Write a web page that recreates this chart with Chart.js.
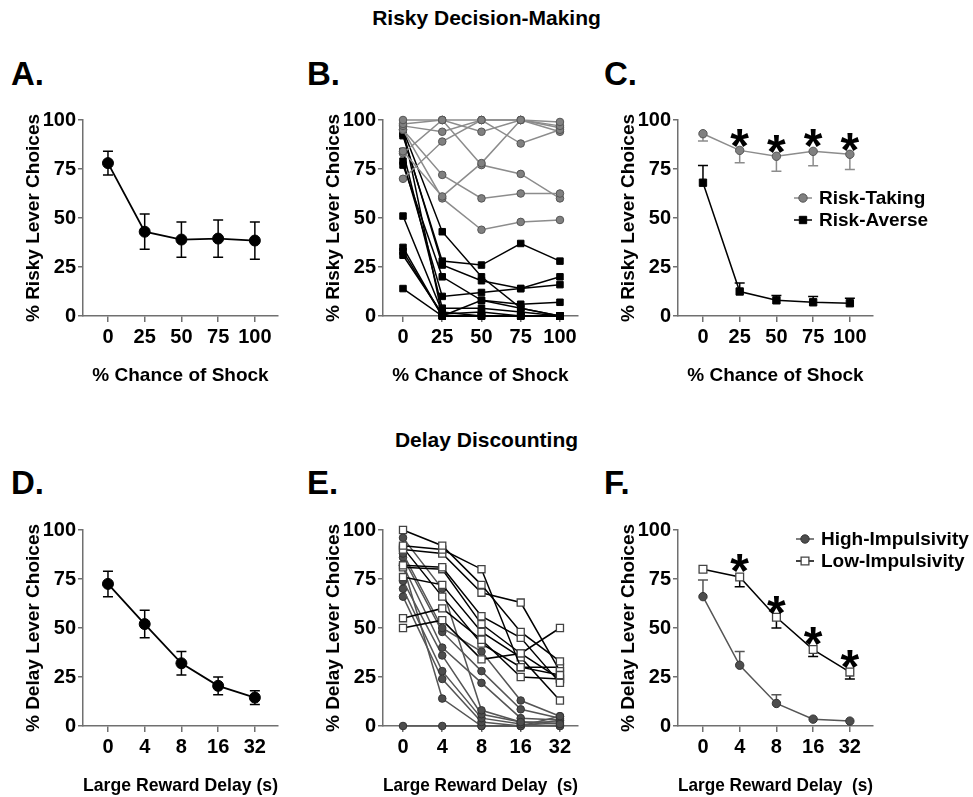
<!DOCTYPE html>
<html>
<head>
<meta charset="utf-8">
<script src="https://cdn.jsdelivr.net/npm/chart.js@4.4.1/dist/chart.umd.min.js"></script>
<style>
  body { margin: 0; width: 973px; height: 797px; background: #fff; position: relative; overflow: hidden;
         font-family: "Liberation Sans", Arial, sans-serif; }
  .t { position: absolute; font-weight: bold; color: #000; white-space: pre; }
  .head { left: 0; width: 973px; text-align: center; font-size: 21px; line-height: 24px; }
  .lab { font-size: 33px; line-height: 36px; }
  canvas { position: absolute; }
</style>
</head>
<body>
<div class="t head" style="top:6px">Risky Decision-Making</div>
<div class="t head" style="top:428px">Delay Discounting</div>
<div class="t lab" style="left:11px;top:56px">A.</div>
<div class="t lab" style="left:307px;top:56px">B.</div>
<div class="t lab" style="left:604px;top:56px">C.</div>
<div class="t lab" style="left:11px;top:465px">D.</div>
<div class="t lab" style="left:307px;top:465px">E.</div>
<div class="t lab" style="left:604px;top:465px">F.</div>

<canvas id="cA" width="300" height="300" style="left:0;top:100px"></canvas>
<canvas id="cB" width="300" height="300" style="left:300px;top:100px"></canvas>
<canvas id="cC" width="378" height="300" style="left:595px;top:100px"></canvas>
<canvas id="cD" width="300" height="287" style="left:0;top:510px"></canvas>
<canvas id="cE" width="300" height="287" style="left:300px;top:510px"></canvas>
<canvas id="cF" width="378" height="287" style="left:595px;top:510px"></canvas>

<script>
// ---- data ----
const shockLabels = ["0", "25", "50", "75", "100"];
const delayLabels = ["0", "4", "8", "16", "32"];
const yTicks = [0, 25, 50, 75, 100];

// A: all rats, risky decision-making
const riskyMean = [78, 43, 39, 39.5, 38.5];
const riskySem = [6, 9, 9, 9.5, 9.5];

// B: individual rats
const riskTakingRats = [
  [100, 100, 100, 100, 99],
  [98, 100, 94, 100, 97],
  [97, 94, 100, 88, 95],
  [70, 89, 100, 100, 94],
  [95, 72, 60, 62.5, 62.5],
  [84, 61, 78, 100, 96],
  [95, 60, 44, 48, 49],
  [83, 100, 77, 72.5, 60]
];
const riskAverseRats = [
  [95, 43, 20, 4, 0],
  [92, 28, 26, 37, 28],
  [93, 26, 18, 14, 20],
  [77, 20, 8, 6, 7],
  [79, 10, 12, 14, 16],
  [84, 4, 4, 2, 0],
  [51, 2, 0, 0, 0],
  [35, 0, 8, 4, 0],
  [33, 0, 0, 0, 0],
  [31, 1, 2, 0, 0],
  [14, 0, 0, 0, 0],
  [96, 0, 0, 0, 0]
];

// C: group means
const riskTakingMean = [93, 84.5, 81.5, 84, 82.5];
const riskTakingSem = [3.7, 6.3, 7.6, 7.3, 7.8];
const riskAverseMean = [68, 12.5, 8, 7, 6.5];
const riskAverseSem = [8.8, 4.3, 2.4, 2.9, 2.5];
const starsC = [null, 93, 90, 93, 91];

// D: all rats, delay discounting
const delayMean = [72.5, 52, 32, 20.5, 14.5];
const delaySem = [6.5, 7, 6, 4.5, 3.5];

// E: individual rats
const lowImpRats = [
  [100, 92, 72, 48, 33],
  [92, 90, 80, 30, 26],
  [90, 88, 68, 63, 28],
  [82, 81, 56, 45, 22],
  [81, 80, 52, 37, 24],
  [76, 72, 48, 35, 13],
  [55, 60, 44, 25, 24],
  [50, 54, 34, 37, 50],
  [91, 66, 42, 30, 30]
];
const highImpRats = [
  [96, 70, 8, 2, 1],
  [88, 50, 38, 13, 5],
  [86, 48, 28, 8.5, 4],
  [82, 40, 22, 4, 3],
  [74, 36, 6, 2, 2],
  [70, 28, 4, 1, 0],
  [66, 24, 2, 0, 3],
  [82, 14, 0, 0, 5],
  [0, 0, 0, 0, 0]
];

// F: group means
const highImpMean = [66, 31, 11.5, 3.5, 2.5];
const highImpSem = [8.5, 7, 4.5, 0, 0];
const lowImpMean = [80, 76, 55.5, 39, 27.5];
const lowImpSem = [0, 5, 5.5, 3.6, 3.5];
const starsF = [null, 85, 64, 48, 36];

// ---- style ----
const FONT = "'Liberation Sans', Arial, sans-serif";
const axisGrey = "#707070";
const midGrey = "#808080";
const darkGrey = "#4d4d4d";
Chart.defaults.font.family = FONT;
Chart.defaults.font.weight = "bold";

// error bars drawn under the markers, using the chart's y scale
const errorBars = {
  id: "errorBars",
  beforeDatasetsDraw(chart) {
    const ctx = chart.ctx;
    const ys = chart.scales.y;
    chart.data.datasets.forEach((ds, i) => {
      if (!ds.err) return;
      const meta = chart.getDatasetMeta(i);
      ctx.save();
      ctx.strokeStyle = ds.errColor || ds.borderColor;
      ctx.lineWidth = 1.5;
      meta.data.forEach((pt, j) => {
        const e = ds.err[j];
        if (!e) return;
        const v = ds.data[j].y;
        const top = ds.errDir === "down" ? pt.y : ys.getPixelForValue(v + e);
        const bot = ds.errDir === "up" ? pt.y : ys.getPixelForValue(v - e);
        ctx.beginPath();
        ctx.moveTo(pt.x, top);
        ctx.lineTo(pt.x, bot);
        if (ds.errDir !== "down") { ctx.moveTo(pt.x - 5, top); ctx.lineTo(pt.x + 5, top); }
        if (ds.errDir !== "up") { ctx.moveTo(pt.x - 5, bot); ctx.lineTo(pt.x + 5, bot); }
        ctx.stroke();
      });
      ctx.restore();
    });
  }
};

function starsPlugin(stars) {
  return {
    id: "stars",
    afterDatasetsDraw(chart) {
      const ctx = chart.ctx;
      ctx.save();
      ctx.fillStyle = "#000";
      ctx.font = "bold 48px " + FONT;
      ctx.textAlign = "center";
      ctx.textBaseline = "alphabetic";
      stars.forEach((v, i) => {
        if (v == null) return;
        const x = chart.scales.x.getPixelForValue(i);
        const y = chart.scales.y.getPixelForValue(v);
        ctx.fillText("*", x, y + 28);
      });
      ctx.restore();
    }
  };
}

// small legend drawn inside the plot, like the original figure
function legendPlugin(items) {
  return {
    id: "inLegend",
    afterDraw(chart) {
      const ctx = chart.ctx;
      items.forEach(it => {
        const ds = chart.data.datasets[it.ds];
        ctx.save();
        ctx.strokeStyle = ds.borderColor;
        ctx.lineWidth = 1.5;
        ctx.beginPath();
        ctx.moveTo(it.x - 9, it.y);
        ctx.lineTo(it.x + 9, it.y);
        ctx.stroke();
        ctx.fillStyle = ds.pointBackgroundColor;
        ctx.strokeStyle = ds.pointBorderColor;
        ctx.lineWidth = ds.pointBorderWidth;
        Chart.helpers.drawPoint(ctx, { pointStyle: ds.pointStyle, radius: ds.pointRadius, borderWidth: ds.pointBorderWidth, rotation: 0 }, it.x, it.y);
        ctx.fillStyle = "#000";
        ctx.font = "bold 19px " + FONT;
        ctx.textAlign = "left";
        ctx.textBaseline = "middle";
        ctx.fillText(it.label, it.x + 16, it.y + 1);
        ctx.restore();
      });
    }
  };
}

function series(vals, style) {
  return Object.assign({
    data: vals.map((v, i) => ({ x: i, y: v })),
    clip: false,
    tension: 0,
    fill: false,
    pointHoverRadius: 0
  }, style);
}

const blackCircle = { borderColor: "#000", borderWidth: 1.8, pointStyle: "circle", pointRadius: 5.5,
  pointBackgroundColor: "#000", pointBorderColor: "#000", pointBorderWidth: 1 };
const greyCircle = { borderColor: "#8c8c8c", borderWidth: 1.5, pointStyle: "circle", pointRadius: 3.8,
  pointBackgroundColor: midGrey, pointBorderColor: "#555", pointBorderWidth: 1 };
const blackSquare = { borderColor: "#000", borderWidth: 1.5, pointStyle: "rect", pointRadius: 5,
  pointBackgroundColor: "#000", pointBorderColor: "#000", pointBorderWidth: 1 };
const darkCircle = { borderColor: "#555", borderWidth: 1.5, pointStyle: "circle", pointRadius: 3.8,
  pointBackgroundColor: darkGrey, pointBorderColor: "#333", pointBorderWidth: 1 };
const whiteSquare = { borderColor: "#000", borderWidth: 1.5, pointStyle: "rect", pointRadius: 5.5,
  pointBackgroundColor: "#fff", pointBorderColor: "#444", pointBorderWidth: 1.3 };

function makePanel(id, p) {
  const tickFont = { family: FONT, size: 20, weight: "bold" };
  const titleFont = { family: FONT, size: 19, weight: "bold" };
  return new Chart(document.getElementById(id), {
    type: "line",
    data: { datasets: p.datasets },
    plugins: [errorBars].concat(p.plugins || []),
    options: {
      responsive: false,
      animation: false,
      events: [],
      layout: { padding: { top: 20, right: p.padRight, left: 0, bottom: 0 } },
      plugins: { legend: { display: false }, tooltip: { enabled: false } },
      scales: {
        x: {
          type: "linear",
          min: p.xMin,
          max: p.xMax,
          afterBuildTicks: s => { s.ticks = p.xLabels.map((_, i) => ({ value: i })); },
          afterFit: s => { s.height = p.xAxisH; },
          ticks: { callback: v => p.xLabels[v], color: "#000", font: tickFont, padding: 3, maxRotation: 0, autoSkip: false },
          grid: { drawOnChartArea: false, drawTicks: true, tickLength: 6, color: axisGrey, lineWidth: 1.5 },
          border: { display: true, color: axisGrey, width: 1.5 },
          title: { display: true, text: p.xTitle, color: "#000", font: titleFont, padding: { top: 0, bottom: p.xTitlePad } }
        },
        y: {
          min: 0,
          max: 100,
          afterBuildTicks: s => { s.ticks = yTicks.map(v => ({ value: v })); },
          afterFit: s => { s.width = 83; },
          ticks: { color: "#000", font: tickFont, padding: 2 },
          grid: { drawOnChartArea: false, drawTicks: true, tickLength: 5, color: axisGrey, lineWidth: 1.5 },
          border: { display: true, color: axisGrey, width: 1.5 },
          title: { display: true, text: p.yTitle, color: "#000", font: titleFont, padding: { top: 22, bottom: 0 } }
        }
      }
    }
  });
}

const wideX = { xMin: -0.68, xMax: 4.63 };
const narrowX = { xMin: -0.51, xMax: 4.46 };
const topRow = { xAxisH: 84, xTitlePad: 13 };
const botRow = { xAxisH: 71, xTitlePad: 0 };

// A
makePanel("cA", Object.assign({}, wideX, topRow, {
  padRight: 22, xLabels: shockLabels, xTitle: "% Chance of Shock", yTitle: "% Risky Lever Choices",
  datasets: [series(riskyMean, Object.assign({ err: riskySem, errDir: "both" }, blackCircle))]
}));

// B
makePanel("cB", Object.assign({}, narrowX, topRow, {
  padRight: 22, xLabels: shockLabels, xTitle: "% Chance of Shock", yTitle: "% Risky Lever Choices",
  datasets: riskTakingRats.map(r => series(r, greyCircle))
    .concat(riskAverseRats.map(r => series(r, Object.assign({}, blackSquare, { pointRadius: 4.6 }))))
}));

// C
makePanel("cC", Object.assign({}, wideX, topRow, {
  padRight: 100, xLabels: shockLabels, xTitle: "% Chance of Shock", yTitle: "% Risky Lever Choices",
  datasets: [
    series(riskTakingMean, Object.assign({ err: riskTakingSem, errDir: "down", errColor: "#8c8c8c" }, greyCircle, { pointRadius: 4.2 })),
    series(riskAverseMean, Object.assign({ err: riskAverseSem, errDir: "up" }, blackSquare, { pointRadius: 5.2 }))
  ],
  plugins: [starsPlugin(starsC), legendPlugin([
    { ds: 0, label: "Risk-Taking", x: 208, y: 98 },
    { ds: 1, label: "Risk-Averse", x: 208, y: 120 }
  ])]
}));

// D
makePanel("cD", Object.assign({}, wideX, botRow, {
  padRight: 22, xLabels: delayLabels, xTitle: "Large Reward Delay (s)", yTitle: "% Delay Lever Choices",
  datasets: [series(delayMean, Object.assign({ err: delaySem, errDir: "both" }, blackCircle))]
}));

// E
makePanel("cE", Object.assign({}, narrowX, botRow, {
  padRight: 22, xLabels: delayLabels, xTitle: "Large Reward Delay  (s)", yTitle: "% Delay Lever Choices",
  datasets: lowImpRats.map(r => series(r, Object.assign({}, whiteSquare, { pointRadius: 5 })))
    .concat(highImpRats.map(r => series(r, darkCircle)))
}));

// F
makePanel("cF", Object.assign({}, wideX, botRow, {
  padRight: 100, xLabels: delayLabels, xTitle: "Large Reward Delay  (s)", yTitle: "% Delay Lever Choices",
  datasets: [
    series(lowImpMean, Object.assign({ err: lowImpSem, errDir: "down" }, whiteSquare)),
    series(highImpMean, Object.assign({ err: highImpSem, errDir: "up" }, darkCircle, { pointRadius: 4.2 }))
  ],
  plugins: [starsPlugin(starsF), legendPlugin([
    { ds: 1, label: "High-Impulsivity", x: 210, y: 29 },
    { ds: 0, label: "Low-Impulsivity", x: 210, y: 51 }
  ])]
}));
</script>
</body>
</html>
